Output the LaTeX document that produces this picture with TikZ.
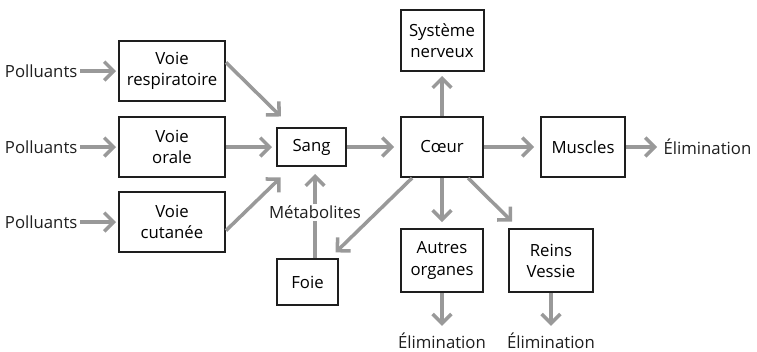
\documentclass[tikz,border=0pt]{standalone}
\usepackage{fontspec}
\setmainfont{Open Sans}
\usetikzlibrary{arrows.meta}

\begin{document}
\begin{tikzpicture}[x=0.03cm, y=-0.03cm,
  font=\fontsize{14.3}{18}\selectfont,
  box/.style={draw=boxblack, line width=1.7pt, align=center, inner sep=0pt},
  txt/.style={inner sep=2pt, text=boxblack},
  arr/.style={draw=arrowgray, line width=3pt, -{Straight Barb[length=8pt, width=16pt]}}]

%─────────────
% Controls
%─────────────
\def\px{0.03cm}  % one pixel of the reference
\definecolor{arrowgray}{RGB}{153,153,153}
\definecolor{boxblack}{RGB}{30,30,30}

\useasboundingbox (0,0) rectangle (757,351);

%─────────────
% Entry routes
%─────────────
\node[box, minimum width=106*\px, minimum height=60*\px] (respi)   at (172,71)  {Voie\\respiratoire};
\node[box, minimum width=106*\px, minimum height=60*\px] (orale)   at (172,147) {Voie\\orale};
\node[box, minimum width=106*\px, minimum height=60*\px] (cutanee) at (172,222) {Voie\\cutanée};

\node[txt, anchor=east] (pol1) at (80,71)  {Polluants};
\node[txt, anchor=east] (pol2) at (80,147) {Polluants};
\node[txt, anchor=east] (pol3) at (80,222) {Polluants};

%─────────────
% Organs
%─────────────
\node[box, minimum width=69*\px, minimum height=38*\px] (sang)    at (311.5,147) {Sang};
\node[box, minimum width=61*\px, minimum height=46*\px] (foie)    at (307.5,282) {Foie};
\node[box, minimum width=83*\px, minimum height=61*\px] (systeme) at (442,40.5)  {Système\\nerveux};
\node[box, minimum width=82*\px, minimum height=60*\px] (coeur)   at (442,147)   {Cœur};
\node[box, minimum width=84*\px, minimum height=60*\px] (muscles) at (583,147)   {Muscles};
\node[box, minimum width=82*\px, minimum height=63*\px] (autres)  at (442,260.5) {Autres\\organes};
\node[box, minimum width=84*\px, minimum height=63*\px] (reins)   at (551,260.5) {Reins\\Vessie};

\node[txt, anchor=west] (elim1) at (661,147) {Élimination};
\node[txt, anchor=base] (elim2) at (442,348) {Élimination};
\node[txt, anchor=base] (elim3) at (551,348) {Élimination};

%─────────────
% Arrows
%─────────────
\draw[arr, shorten >=2*\px] (pol1) -- (respi);
\draw[arr, shorten >=2*\px] (pol2) -- (orale);
\draw[arr, shorten >=2*\px] (pol3) -- (cutanee);

\draw[arr, shorten >=15*\px] (respi.9) -- (sang.135);
\draw[arr, shorten >=4*\px] (orale) -- (sang);
\draw[arr, shorten >=15*\px] (cutanee.-9) -- (sang.225);

\draw[arr, shorten >=6*\px] (sang) -- (coeur);
\draw[arr, shorten >=4*\px] (coeur) -- (systeme);
\draw[arr, shorten >=6*\px] (coeur) -- (muscles);
\draw[arr, shorten >=4*\px] (muscles) -- (elim1);
\draw[arr, shorten >=6*\px] (coeur) -- (autres);
\draw[arr, shorten >=9*\px] (coeur.-50) -- (reins.135);
\draw[arr, shorten >=8*\px] (coeur.-134) -- (foie.47);

% Liver back to blood
\draw[arr, shorten >=7*\px] ([xshift=7.5*\px]foie.north) -- ([xshift=7.5*\px]foie.north |- sang.south)
  node[midway, txt, fill=white] (metab) {Métabolites};

\draw[arr, shorten >=4*\px] (autres) -- (elim2);
\draw[arr, shorten >=4*\px] (reins) -- (elim3);

\end{tikzpicture}
\end{document}
